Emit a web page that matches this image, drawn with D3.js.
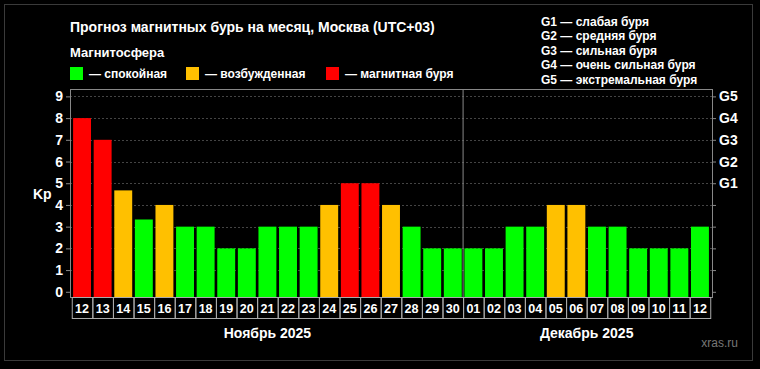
<!DOCTYPE html>
<html>
<head>
<meta charset="utf-8">
<script src="https://cdn.jsdelivr.net/npm/d3@7"></script>
<style>
	body { margin: 0; background: #000; }
	svg { display: block; font-family: "Liberation Sans Narrow", "Liberation Sans", Arial, sans-serif; font-weight: bold; }
</style>
</head>
<body>
<svg width="760" height="369"></svg>
<script>
var days = ["12","13","14","15","16","17","18","19","20","21","22","23","24","25","26","27","28","29","30",
	"01","02","03","04","05","06","07","08","09","10","11","12"];
var kp = [8, 7, 4.67, 3.33, 4, 3, 3, 2, 2, 3, 3, 3, 4, 5, 5, 4, 3, 2, 2,
	2, 2, 3, 3, 4, 4, 3, 3, 2, 2, 2, 3];
var months = [{name: "Ноябрь 2025", from: 0, to: 18}, {name: "Декабрь 2025", from: 19, to: 30}];
var kpTicks = [0, 1, 2, 3, 4, 5, 6, 7, 8, 9];
var gTicks = [{kp: 5, label: "G1"}, {kp: 6, label: "G2"}, {kp: 7, label: "G3"}, {kp: 8, label: "G4"}, {kp: 9, label: "G5"}];
var levels = ["— спокойная", "— возбужденная", "— магнитная буря"];
var gLegend = ["G1 — слабая буря", "G2 — средняя буря", "G3 — сильная буря", "G4 — очень сильная буря", "G5 — экстремальная буря"];

var colors = ["#00ff00", "#ffc000", "#ff0000"];
var level = d3.scaleThreshold().domain([4, 5]).range([0, 1, 2]);

var svg = d3.select("svg");
var plotL = 70, plotR = 712, plotT = 89, plotB = 297;

svg.append("rect").attr("x", 0).attr("y", 0).attr("width", 760).attr("height", 369).attr("fill", "#000");
svg.append("rect").attr("x", 4.5).attr("y", 4.5).attr("width", 748).attr("height", 356)
	.attr("fill", "none").attr("stroke", "#3a3a3a");

var x = d3.scaleBand().domain(d3.range(days.length)).range([plotL, plotR]).paddingInner(0.13).paddingOuter(0.15);
var y = d3.scaleLinear().domain([-0.24, 9.34]).range([plotB, plotT]);
var gap = x.step() * x.paddingInner() / 2;

// grid
svg.append("g").selectAll("line")
	.data(kpTicks.filter(d => d > 0))
	.enter().append("line")
	.attr("x1", plotL).attr("x2", plotR)
	.attr("y1", d => Math.round(y(d)) + 0.5).attr("y2", d => Math.round(y(d)) + 0.5)
	.attr("stroke", "#444").attr("stroke-dasharray", "2,2");

// month separator
svg.append("line")
	.attr("x1", x(19) - gap).attr("x2", x(19) - gap)
	.attr("y1", plotT).attr("y2", plotB)
	.attr("stroke", "#888");

// bars
svg.append("g").selectAll("rect")
	.data(kp)
	.enter().append("rect")
	.attr("x", (d, i) => x(i)).attr("width", x.bandwidth())
	.attr("y", d => y(d)).attr("height", d => plotB - y(d))
	.attr("fill", d => colors[level(d)]);

// frame
svg.append("rect").attr("x", plotL + 0.5).attr("y", plotT + 0.5).attr("width", plotR - plotL).attr("height", plotB - plotT)
	.attr("fill", "none").attr("stroke", "#888");

// left axis
var yAxis = svg.append("g").attr("transform", "translate(" + plotL + ",0)")
	.call(d3.axisLeft(y).tickValues(kpTicks).tickSize(4).tickPadding(3));
yAxis.select(".domain").remove();
yAxis.selectAll("line").attr("stroke", "#888");
yAxis.selectAll("text").attr("fill", "#fff").attr("font-size", 14).attr("font-family", null);

// right axis
var gMap = {};
gTicks.forEach(g => gMap[g.kp] = g.label);
var rAxis = svg.append("g").attr("transform", "translate(" + plotR + ",0)")
	.call(d3.axisRight(y).tickValues(kpTicks).tickSize(4).tickPadding(3).tickFormat(d => gMap[d] || ""));
rAxis.select(".domain").remove();
rAxis.selectAll("line").attr("stroke", "#888");
rAxis.selectAll("text").attr("fill", "#fff").attr("font-size", 14).attr("font-family", null);

svg.append("text").attr("x", 33).attr("y", 199).attr("fill", "#fff").attr("font-size", 14).text("Kp");

// day boxes
var cell = svg.append("g").selectAll("g")
	.data(days)
	.enter().append("g");
cell.append("rect")
	.attr("x", (d, i) => x(i) - gap + 0.5)
	.attr("y", plotB + 0.5)
	.attr("width", x.step()).attr("height", 21)
	.attr("fill", "none").attr("stroke", "#aaa");
cell.append("text")
	.attr("x", (d, i) => x(i) + x.bandwidth() / 2)
	.attr("y", plotB + 16)
	.attr("text-anchor", "middle").attr("fill", "#fff").attr("font-size", 13)
	.attr("textLength", 14).attr("lengthAdjust", "spacingAndGlyphs")
	.text(d => d);

// months
svg.append("g").selectAll("text")
	.data(months)
	.enter().append("text")
	.attr("x", d => (x(d.from) + x(d.to) + x.bandwidth()) / 2)
	.attr("y", 338)
	.attr("text-anchor", "middle").attr("fill", "#fff").attr("font-size", 14)
	.text(d => d.name);

svg.append("text").attr("x", 738).attr("y", 347).attr("text-anchor", "end")
	.attr("fill", "#777").attr("font-size", 12).attr("font-weight", "normal").text("xras.ru");

// title and legend
svg.append("text").attr("x", 70).attr("y", 32).attr("fill", "#fff").attr("font-size", 14)
	.text("Прогноз магнитных бурь на месяц, Москва (UTC+03)");
svg.append("text").attr("x", 70).attr("y", 57).attr("fill", "#fff").attr("font-size", 13)
	.text("Магнитосфера");

var legX = [70, 186, 326];
var leg = svg.append("g").selectAll("g")
	.data(levels)
	.enter().append("g")
	.attr("transform", (d, i) => "translate(" + legX[i] + ",67)");
leg.append("rect").attr("width", 13).attr("height", 13).attr("fill", (d, i) => colors[i]);
leg.append("text").attr("x", 19).attr("y", 11).attr("fill", "#fff").attr("font-size", 12).text(d => d);

svg.append("g").selectAll("text")
	.data(gLegend)
	.enter().append("text")
	.attr("x", 541).attr("y", (d, i) => 26 + i * 14.4)
	.attr("fill", "#fff").attr("font-size", 12)
	.text(d => d);
</script>
</body>
</html>
